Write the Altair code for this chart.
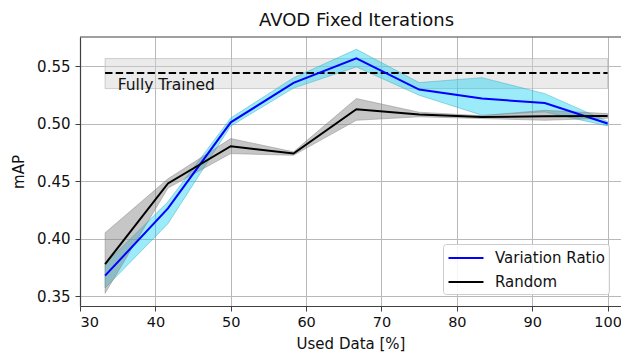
import altair as alt
import pandas as pd

# ---- data ----
used_data = [33.33, 41.67, 50.0, 58.33, 66.67, 75.0, 83.33, 91.67, 100.0]

vr_mean = [0.3677, 0.4263, 0.5012, 0.5355, 0.5570, 0.5297, 0.5219, 0.5180, 0.5002]
vr_low = [0.357, 0.413, 0.498, 0.531, 0.5494, 0.5248, 0.5074, 0.5103, 0.498]
vr_high = [0.378, 0.432, 0.505, 0.540, 0.5648, 0.5358, 0.5401, 0.5262, 0.502]

rnd_mean = [0.3778, 0.448, 0.4804, 0.474, 0.5126, 0.508, 0.5059, 0.5065, 0.5068]
rnd_low = [0.3524, 0.444, 0.474, 0.4725, 0.503, 0.506, 0.5045, 0.503, 0.5048]
rnd_high = [0.405, 0.452, 0.4871, 0.4755, 0.5219, 0.510, 0.507, 0.5117, 0.5088]

full_x = [33.33, 100.0]
full_mean = [0.5442, 0.5442]
full_low = [0.5306, 0.5306]
full_high = [0.5567, 0.5567]

series_names = ["Variation Ratio", "Random"]
series_colors = ["#0000ff", "#000000"]

x_ticks = [30, 40, 50, 60, 70, 80, 90, 100]
y_ticks = [0.35, 0.40, 0.45, 0.50, 0.55]

label_x = [35.0]
label_y = [0.5297]
label_text = ["Fully Trained"]

# ---- tables ----
lines_df = pd.DataFrame({
    "x": used_data * 2,
    "y": vr_mean + rnd_mean,
    "series": [series_names[0]] * len(used_data) + [series_names[1]] * len(used_data),
})
vr_df = pd.DataFrame({"x": used_data, "lo": vr_low, "hi": vr_high})
rnd_df = pd.DataFrame({"x": used_data, "lo": rnd_low, "hi": rnd_high})
full_df = pd.DataFrame({"x": full_x, "mean": full_mean, "lo": full_low, "hi": full_high})
label_df = pd.DataFrame({"x": label_x, "y": label_y, "t": label_text})

W, H = 541, 269

xs = alt.Scale(domain=[30, 101.78], nice=False, zero=False)
ys = alt.Scale(domain=[0.3413, 0.5755], nice=False, zero=False)

x_enc = alt.X("x:Q", scale=xs, axis=alt.Axis(values=x_ticks, format="d", title="Used Data [%]",
                                             labelFontSize=14.5, labelPadding=4, titlePadding=8))
y_enc = alt.Y("y:Q", scale=ys, axis=alt.Axis(values=y_ticks, format=".2f", title="mAP"))

full_band = alt.Chart(full_df).mark_area(
    fill="#d3d3d3", fillOpacity=0.45, stroke="#b0b0b0", strokeOpacity=0.6, strokeWidth=1
).encode(x=alt.X("x:Q", scale=xs), y=alt.Y("lo:Q", scale=ys), y2="hi:Q")

full_line = alt.Chart(full_df).mark_line(
    color="black", strokeWidth=2, strokeDash=[7.4, 3.2]
).encode(x=alt.X("x:Q", scale=xs), y=alt.Y("mean:Q", scale=ys))

full_label = alt.Chart(label_df).mark_text(
    align="left", baseline="alphabetic", fontSize=15.5, font="DejaVu Sans", color="#111111"
).encode(x=alt.X("x:Q", scale=xs), y=alt.Y("y:Q", scale=ys), text="t:N")

vr_band = alt.Chart(vr_df).mark_area(
    fill="#05cdf2", fillOpacity=0.4, stroke="#3aa9b8", strokeOpacity=0.45, strokeWidth=1
).encode(x=alt.X("x:Q", scale=xs), y=alt.Y("lo:Q", scale=ys), y2="hi:Q")

rnd_band = alt.Chart(rnd_df).mark_area(
    fill="#808080", fillOpacity=0.45, stroke="#808080", strokeOpacity=0.45, strokeWidth=1
).encode(x=alt.X("x:Q", scale=xs), y=alt.Y("lo:Q", scale=ys), y2="hi:Q")

lines = alt.Chart(lines_df).mark_line(strokeWidth=2).encode(
    x=x_enc,
    y=y_enc,
    color=alt.Color(
        "series:N",
        scale=alt.Scale(domain=series_names, range=series_colors),
        sort=series_names,
        legend=alt.Legend(
            title=None,
            orient="none",
            legendX=363,
            legendY=207,
            symbolType="M-2,0H2",
            symbolSize=306,
            symbolStrokeWidth=2,
            symbolOffset=9,
            labelFontSize=15,
            labelFont="DejaVu Sans",
            labelColor="#111111",
            labelOffset=19,
            rowPadding=6,
            padding=4,
            fillColor="rgba(255,255,255,0.85)",
            strokeColor="#cccccc",
            cornerRadius=3,
        ),
    ),
    order=alt.Order("x:Q"),
)

top_spine = alt.Chart(label_df).mark_rule(color="#404040", strokeWidth=1.2).encode(
    x=alt.value(0), x2=alt.value(W), y=alt.value(0)
)

chart = alt.layer(
    full_band, vr_band, rnd_band, full_line, full_label, lines, top_spine
).properties(
    width=W,
    height=H,
    title=alt.TitleParams(
        "AVOD Fixed Iterations", fontSize=18, fontWeight="normal",
        font="DejaVu Sans", color="#111111", offset=6, anchor="middle", dx=6,
    ),
    autosize=alt.AutoSizeParams(type="none"),
    padding={"left": 72, "top": 29, "right": 0, "bottom": 52},
).configure_view(stroke=None).configure_axis(
    labelFont="DejaVu Sans",
    labelFontSize=15,
    labelColor="#111111",
    titleFont="DejaVu Sans",
    titleFontSize=15,
    titleFontWeight="normal",
    titleColor="#111111",
    domainColor="#404040",
    domainWidth=1.2,
    tickColor="#404040",
    tickSize=5,
    tickWidth=1,
    labelPadding=5,
    gridColor="#b8b8b8",
    gridWidth=1,
).configure_axisY(titlePadding=10)

chart.save("out.html", embed_options={"renderer": "svg", "actions": False})
